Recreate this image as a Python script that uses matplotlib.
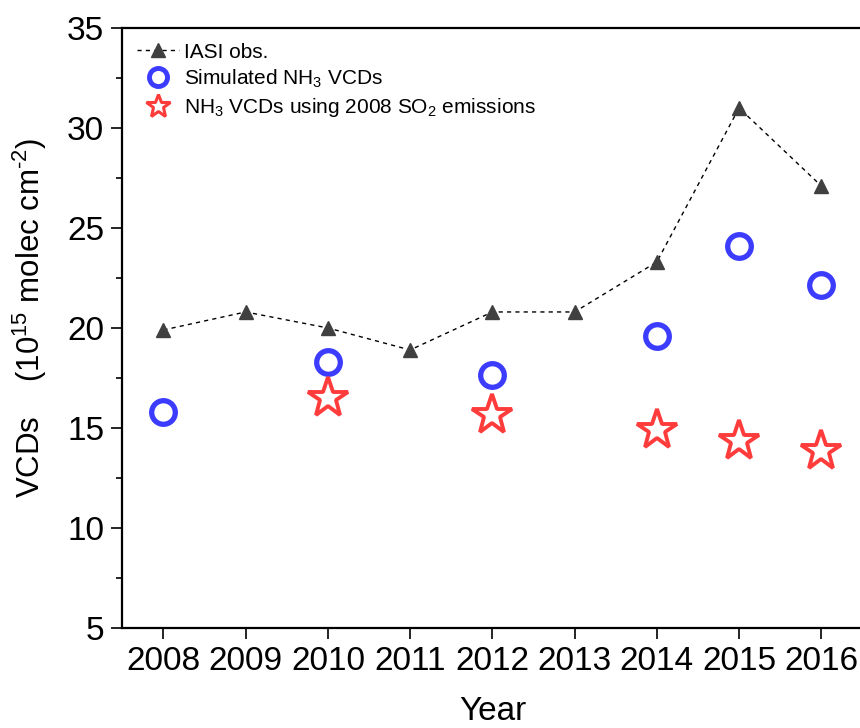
import matplotlib
matplotlib.use("Agg")
from matplotlib import pyplot as plt
from matplotlib.ticker import MultipleLocator

plt.rcParams['font.family'] = ['Liberation Sans', 'DejaVu Sans']
plt.rcParams['mathtext.fontset'] = 'custom'
plt.rcParams['mathtext.rm'] = 'Liberation Sans'
plt.rcParams['mathtext.it'] = 'Liberation Sans:italic'

years = [2008, 2009, 2010, 2011, 2012, 2013, 2014, 2015, 2016]
iasi_obs = [19.9, 20.8, 20.0, 18.9, 20.8, 20.8, 23.3, 31.0, 27.1]

sim_years = [2008, 2010, 2012, 2014, 2015, 2016]
sim_vcds = [15.8, 18.3, 17.65, 19.6, 24.1, 22.15]

so2_years = [2010, 2012, 2014, 2015, 2016]
so2_vcds = [16.5, 15.65, 14.9, 14.35, 13.85]

fig = plt.figure(figsize=(8.6, 7.28), dpi=100)
ax = fig.add_axes([0.1422, 0.1374, 0.8606, 0.8242])

ax.plot(years, iasi_obs, linestyle=(0, (3, 3)), color='black', lw=1,
        marker='^', markersize=10, markerfacecolor='#404040',
        markeredgecolor='#404040', label='IASI obs.', zorder=3)
ax.plot(sim_years, sim_vcds, linestyle='none', marker='o', markersize=17,
        markerfacecolor='none', markeredgecolor='#3c3cff', markeredgewidth=3.8,
        label='Simulated NH$_3$ VCDs', zorder=4)
ax.plot(so2_years, so2_vcds, linestyle='none', marker='*', markersize=30,
        markerfacecolor='white', markeredgecolor='#ff3c3c', markeredgewidth=2.8,
        label='NH$_3$ VCDs using 2008 SO$_2$ emissions', zorder=4)

ax.set_xlim(2007.5, 2016.5)
ax.set_ylim(5, 35)
ax.set_xticks(years)
ax.yaxis.set_major_locator(MultipleLocator(5))
ax.yaxis.set_minor_locator(MultipleLocator(2.5))
ax.tick_params(axis='both', which='major', direction='out', length=8,
               width=1.2, labelsize=24, pad=5)
ax.tick_params(axis='y', which='minor', direction='out', length=4, width=1.2)
for s in ax.spines.values():
    s.set_linewidth(1.6)

ax.set_xlabel('Year', fontsize=24, labelpad=14)
ax.set_ylabel('VCDs    (10$^{15}$ molec cm$^{\\text{-2}}$)', fontsize=22.5)
ax.yaxis.set_label_coords(-0.0993, 0.5175)

leg = ax.legend(loc='upper left', frameon=False, fontsize=15,
                handlelength=2.0, handletextpad=0.25, labelspacing=0.3,
                borderaxespad=0.4, borderpad=0.3)
hs = leg.legend_handles
hs[1].set_markersize(13)
hs[1].set_markeredgewidth(3.5)
hs[2].set_markersize(18)
hs[2].set_markeredgewidth(2.2)

fig.savefig('out.png', dpi=100)
